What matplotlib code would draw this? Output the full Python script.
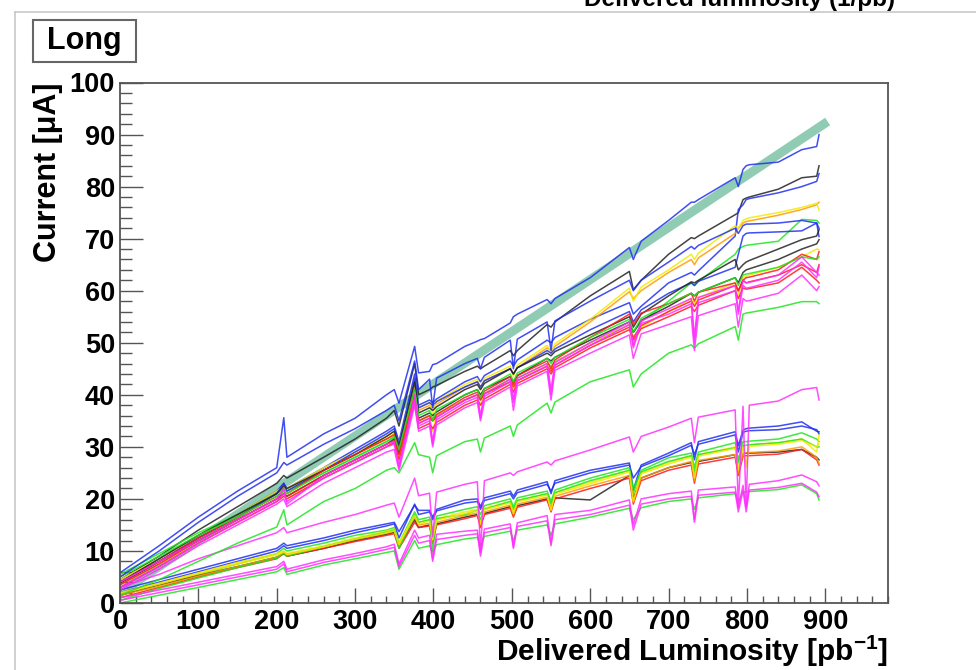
import matplotlib.pyplot as plt
from matplotlib.lines import Line2D
from matplotlib.patches import Rectangle
from matplotlib.ticker import MultipleLocator

plt.rcParams['font.family'] = ['Liberation Sans', 'DejaVu Sans']
plt.rcParams['font.weight'] = 'bold'
plt.rcParams['mathtext.fontset'] = 'custom'
plt.rcParams['mathtext.rm'] = 'Liberation Sans:bold'
plt.rcParams['mathtext.bf'] = 'Liberation Sans:bold'
plt.rcParams['mathtext.default'] = 'bf'

# delivered luminosity (pb^-1) where every channel was read out
lumi = [0, 50, 100, 150, 200, 209, 213,
        260, 300, 340, 350, 356, 376, 381, 395, 399, 404,
        440, 456, 460, 465, 498, 502, 507, 545, 550, 555,
        600, 650, 655, 665, 700, 729, 733, 738,
        785, 789, 795, 799, 803, 840, 870, 889, 892]

# linear reference (thick band)
fit_lumi = [0, 903]
fit_current = [2, 92.5]

# upper group of channels, current in uA
up_01 = [5.8, 11, 16.5, 21.5, 26, 35.6, 28,
         32.5, 35.5, 40, 41, 38.4, 49.3, 44.2, 44.5, 45.8, 46,
         49.3, 50.3, 50.6, 50.8, 53.8, 55, 55.5, 58.3, 57.5, 58.5,
         62.5, 68.3, 66, 69.5, 73.5, 77, 77, 77.5,
         81.7, 80, 83.3, 84, 84.2, 84.7, 87.1, 87.7, 90]
up_02 = [4.5, 9, 14, 18.5, 23, 24.5, 24,
         28, 31.5, 35.5, 37, 34, 46, 40, 41, 41.5, 41.8,
         44.5, 45.5, 45, 45.5, 48.5, 47.5, 48.5, 53.5, 53, 54,
         59, 63.7, 60.2, 62, 67, 70.2, 70, 70.5,
         74.6, 75, 77.5, 77.8, 78, 79.5, 81.7, 82, 84]
up_03 = [4, 8.5, 13, 17, 21.5, 23, 22,
         26, 29.5, 33, 34, 31, 44, 38, 39, 38.5, 39.2,
         42.5, 43.5, 42.5, 43.7, 46.5, 45.5, 46.7, 50.5, 50, 51,
         54.5, 57.7, 55.5, 57, 61.5, 63.5, 63, 63.8,
         70.5, 75.6, 76.5, 77.5, 77.7, 78.8, 80, 81, 82.5]
up_04 = [4, 8, 12.5, 16.5, 21, 22, 21.5,
         25.5, 28.5, 31.5, 32.5, 30, 42, 37, 38, 37.5, 38.2,
         41.5, 42.5, 41.5, 42.7, 45, 44, 45.2, 49, 48.5, 49.3,
         54, 59.8, 58.5, 60, 63.5, 66, 65, 66.3,
         71, 72, 73, 73.3, 73.4, 74.5, 75.6, 76.5, 77]
up_05 = [4.5, 8.5, 13, 17, 21.5, 22.5, 22,
         26, 29, 32, 33, 30.5, 42.5, 37.5, 38.5, 36, 38.8,
         42, 43, 41, 43.2, 45.5, 43.5, 45.7, 49.5, 48, 49.8,
         54.5, 60.5, 58, 60.7, 64, 67, 66, 67.2,
         72.5, 72, 73.5, 73.8, 74, 75, 76, 76.8, 75.5]
up_06 = [5.5, 9.5, 13.5, 17, 21, 22, 21.5,
         25, 28, 31, 31.8, 29, 40, 35, 36, 35.5, 36.2,
         39, 40, 39, 40.2, 43, 42, 43.2, 46, 45.5, 46.3,
         50, 53.5, 52, 54, 58, 61.5, 61, 61.8,
         67, 68, 68.5, 68.7, 68.8, 69.5, 73.7, 73.5, 73]
up_07 = [3.5, 8, 12.5, 16.5, 21, 23, 21.5,
         25.5, 29, 32.5, 33.5, 30.5, 43, 37.5, 38.5, 38, 38.7,
         41.5, 42.5, 41.5, 42.7, 45, 44, 45.2, 48.5, 48, 48.8,
         52.5, 56, 54, 56.3, 59.5, 61.5, 61, 61.8,
         64.5, 67, 70.5, 71, 71.1, 71.3, 71.5, 73, 70.4]
up_08 = [4, 8.5, 13, 17, 21, 22.5, 22,
         25.5, 28.5, 32, 33, 30, 42.5, 36.5, 37.5, 37, 37.7,
         41, 42, 41, 42.2, 45, 44, 45.2, 48, 47.5, 48.3,
         51.5, 55, 53, 55.5, 59, 61.7, 61.5, 62,
         66, 64, 65, 65.5, 65.8, 68, 69.8, 70.5, 71.7]
up_09 = [3.8, 8, 12, 16, 20, 21, 20.5,
         24.5, 27.5, 30.5, 31.5, 28.5, 41, 35.5, 36.5, 36, 36.7,
         40, 41, 40, 41.2, 43.5, 42.5, 43.7, 47, 46.5, 47.2,
         50.5, 54, 52, 54.3, 57, 59.5, 59, 59.7,
         62.5, 61.5, 63.5, 64, 64.2, 66, 68, 69, 69.8]
up_10 = [3.5, 7.5, 11.5, 15.5, 19.5, 20.5, 20,
         24, 27, 30, 31, 28, 40.5, 35, 36, 33, 36.2,
         39, 40, 38, 40.2, 42.5, 41, 42.7, 46, 45, 46.2,
         50, 53.5, 49.5, 53, 56, 58.5, 57.5, 58.7,
         61.5, 59, 62.5, 62.8, 63, 64.5, 66.5, 68, 67.9]
up_11 = [3.5, 7.5, 12, 16, 20, 21, 20.5,
         24.5, 27.5, 30.5, 31.2, 28.5, 39.5, 34.5, 35.5, 35, 35.7,
         39, 40, 39, 40.2, 42.5, 41.5, 42.7, 45.5, 44.5, 45.7,
         49.5, 53, 51, 53.3, 56, 58, 57, 58.2,
         61, 60, 62, 62.5, 62.6, 64, 67, 66, 67.5]
up_12 = [4, 8, 12.5, 16.5, 20.5, 21.5, 21,
         25.5, 28.5, 31.5, 32.3, 29.5, 40, 35, 36, 35, 36.2,
         39.5, 40.5, 39.5, 40.7, 43.5, 42, 43.7, 46.5, 45, 46.7,
         51, 55.5, 53.5, 55.7, 57.5, 59.5, 58, 59.7,
         61.5, 60, 62, 61.5, 61.7, 63, 65, 63.5, 65]
up_13 = [3, 7, 11.5, 15.5, 19.5, 21, 19.5,
         24, 27, 30, 30.5, 26.5, 39, 34, 35, 30.5, 35.2,
         38.5, 39.5, 35.5, 39.7, 42.5, 38.5, 42.7, 45.5, 40, 45.7,
         49.5, 53.5, 49, 53.7, 55.5, 57.5, 50, 57.7,
         60, 55.5, 61, 60.5, 60.6, 62, 65.5, 62.5, 64.6]
up_14 = [2.5, 6.5, 11, 15, 19, 20, 18.5,
         23, 26, 29, 29.5, 25.5, 38, 33, 34, 30, 34.2,
         37.5, 38.5, 35, 38.7, 41.5, 37, 41.7, 44.5, 39, 44.7,
         48, 51.5, 47, 51.7, 53.5, 55, 48.5, 55.2,
         57.5, 53, 58.5, 58, 58.1, 59.5, 63, 60, 60.8]
up_15 = [3, 7, 11.5, 15.5, 19.5, 20.5, 20,
         24, 27, 30, 30.8, 27.5, 38.5, 33.5, 34.5, 33.5, 34.7,
         38, 39, 38, 39.2, 42, 40.5, 42.2, 45, 44, 45.2,
         49, 52.5, 50.5, 52.7, 55, 57, 56, 57.2,
         60, 58.5, 60.5, 60.3, 60.4, 61.5, 64.5, 62, 61.5]
up_16 = [1.5, 4.5, 8, 11.5, 14.6, 17.9, 15,
         19.5, 22, 25.5, 26, 25, 30.8, 28.5, 28, 25, 28.3,
         31, 31.5, 29, 31.7, 34, 32, 34.2, 38.4, 36.5, 38.6,
         42.5, 44.8, 41.5, 44, 48, 49.6, 49, 49.8,
         53.1, 50.5, 55.5, 55.7, 55.8, 56.8, 57.9, 57.9, 57.5]
up_17 = [5, 9, 13, 16.5, 20.5, 21.5, 21,
         25, 28, 31, 32, 29.5, 41, 36, 37, 35, 37.2,
         40, 41, 39.5, 41.2, 44, 42.5, 44.2, 47, 46, 47.2,
         51, 54.5, 52, 54.7, 57.5, 59.5, 59, 59.7,
         62.5, 61, 63, 63.2, 63.3, 64.5, 66.5, 66, 66.5]
up_18 = [4, 8, 12, 16, 20, 22, 19,
         24.5, 27.5, 30.5, 31, 26, 40, 34.5, 35.5, 31, 35.7,
         39, 40, 36, 40.2, 43, 39, 43.2, 46, 41, 46.2,
         50, 54, 49.5, 54.2, 56.5, 58.5, 51, 58.7,
         61, 56, 62, 61.5, 61.6, 63, 66.5, 63.5, 63]
up_19 = [5, 10, 15.5, 20.5, 25, 27, 26.5,
         30.5, 33.5, 37, 38, 35, 46.5, 41, 43, 37.5, 43.2,
         46, 47, 45, 47.2, 50.5, 45, 50.7, 54, 48.5, 54.2,
         58, 62, 60, 62, 65.5, 68.5, 68, 68.7,
         72, 71, 72.5, 72.8, 72.8, 73, 73.5, 73, 72]

# lower group of channels, current in uA
lo_01 = [3, 5.5, 8.5, 11, 13.5, 14.5, 13.5,
         15.5, 17, 18.8, 19.2, 16.5, 24, 20.6, 21.1, 12.7, 21.3,
         22.8, 23.3, 10, 23.5, 25, 24.5, 25.2, 27.1, 26.5, 27.3,
         29.4, 31.9, 29, 32, 33.8, 35.5, 30.8, 35.7,
         37.1, 18.5, 37.8, 18.5, 38, 38.8, 41, 41.4, 39]
lo_02 = [2.5, 4.5, 6.5, 8.5, 10.5, 11.5, 11,
         12.5, 14, 15.2, 15.5, 13.7, 18.8, 17.8, 17.8, 16.5, 18,
         19.8, 20, 18.5, 20.2, 21.5, 20.5, 21.7, 23.3, 21, 23.5,
         25.5, 26.9, 21.7, 26.5, 28.8, 30.8, 27.5, 31,
         32.9, 30.2, 33.2, 33.5, 33.6, 34, 34.8, 33, 32.9]
lo_03 = [2, 4, 6, 8, 10, 11, 10.5,
         12, 13.5, 14.8, 15.2, 12.5, 19, 17, 17.5, 16, 17.7,
         19.2, 19.5, 18, 19.7, 21, 20, 21.2, 22.8, 21.5, 23,
         25, 26.5, 24, 26.2, 28.3, 30.3, 28.5, 30.5,
         32.3, 29, 32.8, 33, 33.1, 33.3, 34, 33.3, 32.5]
lo_04 = [1.5, 3.5, 5.5, 7.5, 9.5, 10.5, 10,
         11.5, 13, 14, 14.5, 11.5, 17.5, 16, 16.5, 13.5, 16.7,
         18, 18.5, 17, 18.7, 20, 18.5, 20.2, 21.5, 19.5, 21.7,
         24, 26, 21, 25.5, 27.9, 28.8, 26, 29,
         30.8, 27.5, 31, 31, 31.1, 31.5, 32.7, 31.5, 31]
lo_05 = [2, 3.8, 5.8, 7.8, 9.5, 10, 9.5,
         11, 12.5, 13.8, 14.2, 11.5, 17, 15.5, 16, 12.5, 16.2,
         17.5, 18, 15.5, 18.2, 19.5, 17.5, 19.7, 21, 18, 21.2,
         23.2, 25.5, 20, 25, 27, 28.3, 24.5, 28.5,
         30, 26, 30.3, 26.5, 30.4, 30.8, 31.5, 29, 32.3]
lo_06 = [1.5, 3.5, 5.3, 7, 8.8, 9.5, 9,
         10.5, 12, 13.2, 13.6, 11, 16, 14.5, 15, 12.5, 15.2,
         16.5, 17, 15, 17.2, 18.5, 17, 18.7, 20, 18, 20.2,
         19.8, 24.5, 20, 24, 26, 27, 24, 27.2,
         28.5, 25, 28.7, 28.8, 28.8, 29, 29.5, 28, 27.5]
lo_07 = [1, 3, 5, 6.8, 8.5, 9.5, 9,
         10.5, 11.8, 13, 13.3, 10.5, 15.5, 14.5, 14.8, 11.5, 15,
         16.2, 16.8, 14.5, 17, 18.2, 16.5, 18.4, 19.8, 17.5, 20,
         22, 24, 19, 23.5, 25.5, 26.5, 23, 26.7,
         28, 24.5, 28.2, 28.3, 28.3, 28.6, 29.5, 27.5, 26.5]
lo_08 = [1.5, 3.2, 5.2, 7, 8.8, 9.8, 9.3,
         10.8, 12.2, 13.4, 13.8, 11, 16.5, 15, 15.3, 12, 15.5,
         16.8, 17.3, 15, 17.5, 18.8, 17, 19, 20.3, 18, 20.5,
         22.5, 24.5, 19.5, 24, 26, 27.2, 23.5, 27.4,
         28.5, 25, 28.8, 28.9, 28.9, 29.2, 30, 28, 26.8]
lo_09 = [0.5, 2.8, 4.8, 6.8, 8.6, 9.6, 9,
         10.8, 12.3, 13.6, 14, 10.5, 17, 15.5, 16, 10, 16.2,
         17, 17.8, 16, 18, 19.5, 18, 19.7, 21, 19, 21.2,
         23.5, 25.5, 22, 25.2, 27.2, 28.3, 25, 28.5,
         29.8, 27, 30.2, 30.3, 30.4, 30.8, 31.5, 30, 30]
lo_10 = [1, 2.5, 4, 5.5, 7, 8, 6.5,
         8.3, 9.5, 10.8, 11.3, 7.5, 14, 12.5, 13, 8.5, 13.2,
         13.8, 14, 9.6, 14.2, 15.2, 10.8, 15.4, 16.8, 11.5, 17,
         17.8, 19.8, 15, 20, 21, 21.5, 16, 21.7,
         22.3, 18.3, 22.6, 18.3, 22.8, 23.5, 24.6, 23.3, 22.5]
lo_11 = [0.5, 2, 3.5, 5, 6.5, 7.5, 6,
         7.8, 9, 10.3, 10.7, 7, 13, 11.5, 12, 8, 12.2,
         13, 13.3, 9, 13.5, 14.5, 10.5, 14.7, 15.8, 11, 16,
         17, 18.8, 14, 19, 20, 20.5, 15.5, 20.7,
         21.3, 17.5, 21.6, 17.5, 21.7, 22.2, 23, 21.3, 20.4]
lo_12 = [0, 1.5, 3, 4.5, 6, 6.8, 5.5,
         7.3, 8.5, 9.7, 10, 6.5, 12, 10.5, 11, 9.8, 11.2,
         12.3, 12.6, 11, 12.8, 13.8, 12, 14, 15, 13, 15.2,
         16.5, 18.2, 16, 18.3, 19.5, 20, 18, 20.2,
         21, 19.5, 21.3, 21.4, 21.4, 21.8, 22.7, 21, 19.8]
lo_13 = [1.8, 3.6, 5.6, 7.5, 9.2, 9.8, 9.3,
         10.8, 12.3, 13.5, 13.9, 11.2, 16.8, 15.2, 15.7, 12.2, 15.9,
         17.2, 17.7, 15.2, 17.9, 19.2, 17.2, 19.4, 20.7, 17.8, 20.9,
         22.9, 25.2, 19.5, 24.8, 26.7, 28, 24, 28.2,
         29.7, 25.5, 30, 26, 30.1, 30.5, 31.2, 30, 30.5]

BLUE, BLACK, YELLOW, RED = '#1f2ff0', '#222222', '#f2ea00', '#ff1a1a'
ORANGE, GREEN, MAGENTA = '#ff9a00', '#1ee61e', '#ff2eff'

upper = [up_01, up_02, up_03, up_04, up_05, up_06, up_07, up_08, up_09, up_10,
         up_11, up_12, up_15, up_16, up_17, up_19, up_13, up_14, up_18]
upper_colors = [BLUE, BLACK, BLUE, ORANGE, YELLOW, GREEN, BLUE, BLACK, BLACK, YELLOW,
                RED, RED, RED, GREEN, GREEN, BLUE, MAGENTA, MAGENTA, MAGENTA]
lower = [lo_02, lo_03, lo_04, lo_05, lo_06, lo_07, lo_08, lo_09, lo_12, lo_13,
         lo_01, lo_10, lo_11]
lower_colors = [BLUE, BLUE, GREEN, YELLOW, BLACK, RED, ORANGE, GREEN, GREEN, YELLOW,
                MAGENTA, MAGENTA, MAGENTA]

fig = plt.figure(figsize=(9.76, 6.70), dpi=100)
ax = fig.add_axes([120 / 976, 67 / 670, 768 / 976, 520.5 / 670])

ax.plot(fit_lumi, fit_current, color='#90ccb4', lw=6.5, solid_capstyle='butt', zorder=1)
for vals, col in zip(lower + upper, lower_colors + upper_colors):
    ax.plot(lumi, vals, color=col, lw=1.1, alpha=0.85, zorder=2)

ax.set_xlim(0, 980)
ax.set_ylim(0, 100)
ax.xaxis.set_major_locator(MultipleLocator(100))
ax.xaxis.set_minor_locator(MultipleLocator(20))
ax.yaxis.set_major_locator(MultipleLocator(10))
ax.yaxis.set_minor_locator(MultipleLocator(2))
ax.set_xticks(range(0, 901, 100))
ax.tick_params(which='both', direction='in', top=False, right=False,
               color='#555555', width=1.0, labelsize=19.5)
ax.tick_params(axis='x', which='major', length=10.8, pad=4.3)
ax.tick_params(axis='x', which='minor', length=5.4)
ax.tick_params(axis='y', which='major', length=16.5, pad=3.6)
ax.tick_params(axis='y', which='minor', length=8.6)
for s in ax.spines.values():
    s.set_color('#555555')
    s.set_linewidth(1.3)

ax.set_xlabel('Delivered Luminosity [pb$^{-1}$]', loc='right', fontsize=21.5,
              fontweight='bold', labelpad=-1)
ax.set_ylabel('Current [μA]', loc='top', fontsize=22, fontweight='bold', labelpad=5)

# page frame and the "Long" label box
fig.add_artist(Line2D([15 / 976, 1], [1 - 12 / 670] * 2, color='#c8c8c8', lw=1.2))
fig.add_artist(Line2D([15 / 976] * 2, [0, 1 - 12 / 670], color='#c8c8c8', lw=1.2))
fig.add_artist(Rectangle((33 / 976, 1 - 62 / 670), 103 / 976, 42 / 670,
                         transform=fig.transFigure, fc='white', ec='#666666', lw=1.5))
fig.text(84 / 976, 1 - 41 / 670, 'Long', ha='center', va='center', fontsize=22)
fig.text(895 / 976, 1 - 6 / 670, 'Delivered luminosity (1/pb)', ha='right',
         va='baseline', fontsize=17.5)

fig.savefig('out.png', dpi=100)
